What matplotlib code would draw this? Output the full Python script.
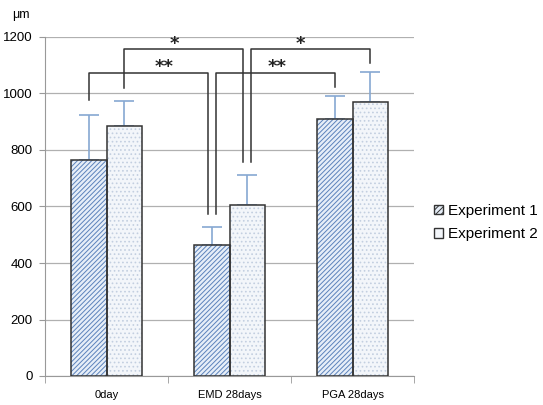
import matplotlib
matplotlib.use("Agg")
import matplotlib.pyplot as plt
import numpy as np
from matplotlib.patches import Patch

categories = ["0day", "EMD 28days", "PGA 28days"]
series_names = ["Experiment 1", "Experiment 2"]
exp1_vals = [765, 464, 910]
exp2_vals = [886, 604, 970]
exp1_err = [159, 62, 82]
exp2_err = [89, 106, 106]
yticks = [0, 200, 400, 600, 800, 1000, 1200]

plt.rcParams['font.family'] = ['Liberation Sans', 'DejaVu Sans']
plt.rcParams['hatch.linewidth'] = 0.7

fig = plt.figure(figsize=(5.43, 4.05), dpi=100)
ax = fig.add_axes([45/543, 29/405, 369/543, 339/405])

x = np.arange(len(categories))
w = 0.29
off = w / 2

hatch_blue = '#5b82bb'
face1 = '#e6eef8'
face2 = '#f3f6fa'
dot_col = '#c3cfe0'
err_col = '#86a8d2'

ax.bar(x - off, exp1_vals, w, color=face1, edgecolor=hatch_blue, hatch='///////', linewidth=0, zorder=2)
ax.bar(x - off, exp1_vals, w, fill=False, edgecolor='#333333', linewidth=1.1, zorder=3)
ax.bar(x + off, exp2_vals, w, color=face2, edgecolor=dot_col, hatch='....', linewidth=0, zorder=2)
ax.bar(x + off, exp2_vals, w, fill=False, edgecolor='#333333', linewidth=1.1, zorder=3)

ax.errorbar(x - off, exp1_vals, yerr=[np.zeros(3), exp1_err], fmt='none',
            ecolor=err_col, elinewidth=1.2, capsize=7, capthick=1.2, zorder=1)
ax.errorbar(x + off, exp2_vals, yerr=[np.zeros(3), exp2_err], fmt='none',
            ecolor=err_col, elinewidth=1.2, capsize=7, capthick=1.2, zorder=1)

gap = 0.033
def bracket(x1, y1, x2, y2, ytop):
    ax.plot([x1, x1, x2, x2], [y1, ytop, ytop, y2], color='#333333', lw=1.1, zorder=4, clip_on=False)

def star(xc, y, label):
    ax.text(xc, y, label, ha='center', va='center', fontsize=13, color='#222222',
            family='DejaVu Sans', fontweight='bold')

bracket(x[0] - off, 977, x[1] - off - gap, 573, 1073)
bracket(x[1] - off + gap, 573, x[2] - off, 1023, 1073)
bracket(x[0] + off, 1019, x[1] + off - gap, 758, 1157)
bracket(x[1] + off + gap, 758, x[2] + off, 1108, 1157)
star(0.47, 1093, '**')
star(1.39, 1093, '**')
star(0.55, 1176, '*')
star(1.58, 1176, '*')

ax.set_xlim(-0.5, 2.5)
ax.set_ylim(0, 1200)
ax.set_yticks(yticks)
ax.set_yticklabels([str(v) for v in yticks], fontsize=9.5)
ax.set_xticks(x)
ax.set_xticklabels(categories, fontsize=8)
ax.set_xticks([-0.5, 0.5, 1.5, 2.5], minor=True)
ax.tick_params(axis='x', which='major', length=0, pad=10)
ax.tick_params(axis='x', which='minor', length=5, color='#999999')
ax.tick_params(axis='y', length=4, color='#999999', pad=5)
ax.yaxis.grid(True, color='#b0b0b0', lw=0.9, zorder=0)
ax.set_axisbelow(True)
for s in ['top', 'right']:
    ax.spines[s].set_visible(False)
ax.spines['left'].set_color('#999999')
ax.spines['bottom'].set_color('#999999')

fig.text(12/543, 1 - 15/405, 'μm', fontsize=9, va='center', ha='left')

handles = [Patch(facecolor=face1, edgecolor='#333333', hatch='//////', label=series_names[0]),
           Patch(facecolor=face2, edgecolor='#333333', label=series_names[1])]
fig.legend(handles=handles, loc='center left', bbox_to_anchor=(434/543, 1 - 222.5/405),
           frameon=False, fontsize=11, handlelength=0.6, handleheight=0.6,
           handletextpad=0.3, labelspacing=0.6, borderpad=0, borderaxespad=0)

fig.savefig('out.png', dpi=100)
